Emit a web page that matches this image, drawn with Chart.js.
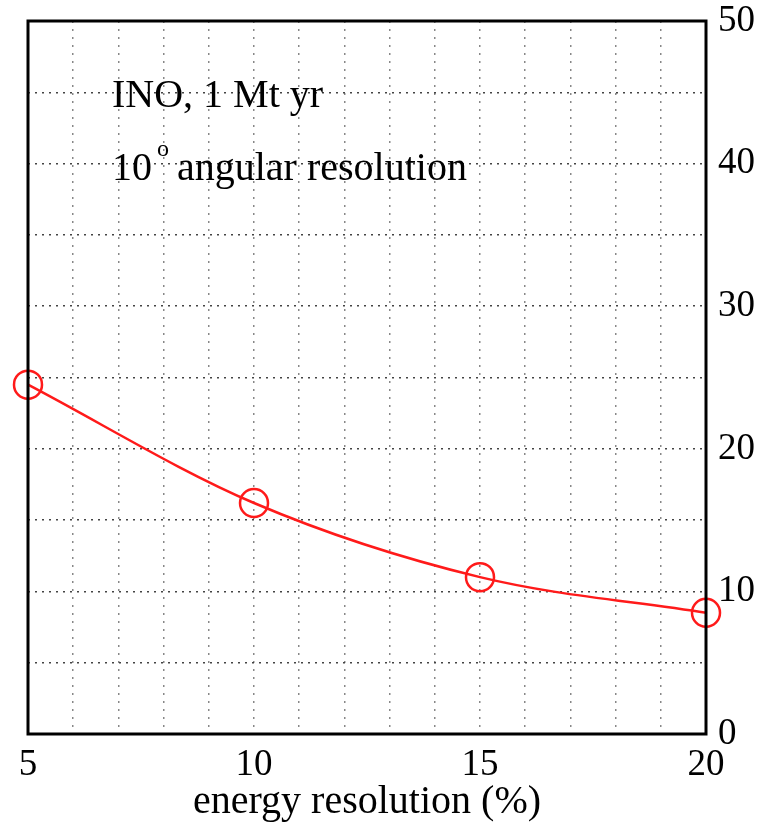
<!DOCTYPE html>
<html>
<head>
<meta charset="utf-8">
<style>
  html, body { margin: 0; padding: 0; background: #fff; }
  #wrap { width: 765px; height: 826px; position: relative; }
</style>
<script src="https://cdn.jsdelivr.net/npm/chart.js@4/dist/chart.umd.min.js"></script>
</head>
<body>
<div id="wrap"><canvas id="c" width="765" height="826"></canvas></div>
<script>
const energyResolution = [5, 10, 15, 20];
const sensitivity = [24.5, 16.2, 11.0, 8.5];
const xTickLabels = [5, 10, 15, 20];
const yTickLabels = [0, 10, 20, 30, 40, 50];
const annotationLines = ["INO, 1 Mt yr", "10", "angular resolution"];
const xTitle = "energy resolution (%)";

const SERIF = "'Liberation Serif', 'DejaVu Serif', serif";

const framePlugin = {
  id: 'frame',
  afterDatasetsDraw(chart) {
    const { ctx, chartArea: a } = chart;
    ctx.save();
    ctx.strokeStyle = '#000';
    ctx.lineWidth = 3;
    ctx.strokeRect(a.left, a.top, a.right - a.left, a.bottom - a.top);
    ctx.restore();
  },
  afterDraw(chart) {
    const { ctx } = chart;
    ctx.save();
    ctx.fillStyle = '#000';
    ctx.textBaseline = 'alphabetic';
    ctx.textAlign = 'left';
    ctx.font = "40px " + SERIF;
    ctx.fillText(annotationLines[0], 112, 107);
    ctx.fillText(annotationLines[1], 112, 180);
    const w = ctx.measureText(annotationLines[1]).width;
    ctx.font = "24px " + SERIF;
    ctx.fillText("o", 112 + w + 5, 156);
    ctx.font = "40px " + SERIF;
    ctx.fillText(annotationLines[2], 112 + w + 25, 180);
    ctx.restore();
  }
};

new Chart(document.getElementById('c'), {
  type: 'line',
  data: {
    datasets: [{
      data: energyResolution.map((x, i) => ({ x: x, y: sensitivity[i] })),
      borderColor: '#ff1a1a',
      borderWidth: 2.5,
      pointRadius: 14,
      pointHoverRadius: 14,
      pointBorderWidth: 2.5,
      pointBorderColor: '#ff1a1a',
      pointBackgroundColor: 'rgba(0,0,0,0)',
      cubicInterpolationMode: 'monotone',
      fill: false,
      clip: false
    }]
  },
  options: {
    responsive: false,
    animation: false,
    events: [],
    layout: { padding: { left: 28, top: 21, right: 0, bottom: 0 } },
    plugins: { legend: { display: false }, tooltip: { enabled: false } },
    scales: {
      x: {
        type: 'linear',
        min: 5, max: 20,
        afterFit(s) { s.height = 92; s.paddingLeft = 0; s.paddingRight = 0; },
        ticks: {
          stepSize: 1,
          autoSkip: false,
          maxRotation: 0,
          padding: 9,
          color: '#000',
          font: { family: SERIF, size: 37 },
          callback: (v) => xTickLabels.includes(v) ? String(v) : ''
        },
        grid: { color: '#888', lineWidth: 1.5, drawTicks: false },
        border: { display: false, dash: [2, 6] },
        title: {
          display: true,
          text: xTitle,
          color: '#000',
          font: { family: SERIF, size: 40 },
          padding: { top: 0, bottom: 0 }
        }
      },
      y: {
        position: 'right',
        min: 0, max: 50,
        afterFit(s) { s.width = 59; s.paddingTop = 0; s.paddingBottom = 0; },
        ticks: {
          stepSize: 5,
          padding: 12,
          color: '#000',
          font: { family: SERIF, size: 37 },
          callback: (v) => yTickLabels.includes(v) ? String(v) : ''
        },
        grid: { color: '#444', lineWidth: 1.5, drawTicks: false },
        border: { display: false, dash: [2, 5] }
      }
    }
  },
  plugins: [framePlugin]
});
</script>
</body>
</html>
